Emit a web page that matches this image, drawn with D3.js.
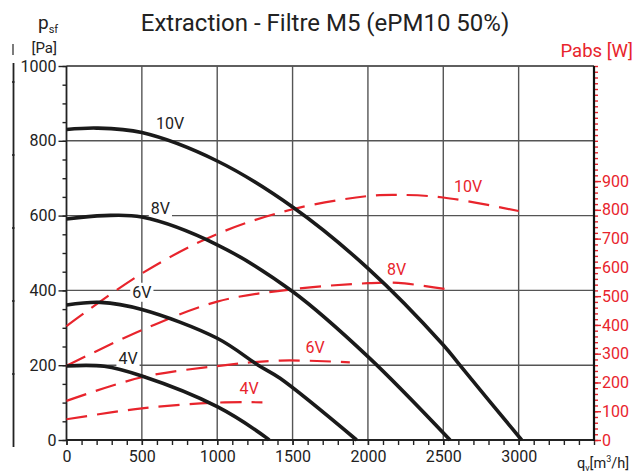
<!DOCTYPE html>
<html><head><meta charset="utf-8">
<script src="https://cdn.jsdelivr.net/npm/d3@7"></script>
<style>
body{margin:0;background:#fff;}
svg{display:block;font-family:Roboto,"DejaVu Sans",sans-serif;}
</style></head>
<body><svg id="c" width="637" height="472"></svg>
<script>
// ---- data ----
const title = "Extraction - Filtre M5 (ePM10 50%)";
const xTicks = [0,500,1000,1500,2000,2500,3000];
const yTicks = [0,200,400,600,800,1000];
const yRTicks = [0,100,200,300,400,500,600,700,800,900];
// pressure curves (flow m3/h, pressure Pa)
const q10 = [0,200,500,1000,1500,2000,2500,2610,3020];
const p10 = [830,834,822,746,623,459,254,200,0];
const q8  = [0,250,500,1000,1500,2000,2545];
const p8  = [591,600,596,522,397,223,0];
const q6  = [0,225,500,1000,1272,1417,1925];
const p6  = [361,368,349,272,200,165,0];
const q4  = [0,250,500,1000,1330,1345];
const p4  = [198,197,171,89,5,0];
// absorbed power curves (flow m3/h, power W)
const qw10 = [0,500,1000,1500,2000,2200,2500,3000];
const w10  = [396,579,716,802,848,852,843,796];
const qw8  = [0,500,1000,1500,2000,2200,2550];
const w8   = [258,382,481,524,545,546,522];
const qw6  = [0,500,1000,1417,1880];
const w6   = [136,218,257,276,270];
const qw4  = [0,500,1000,1300];
const w4   = [72,110,130,131];
const pLabels = ["10V","8V","6V","4V"];
const pLabelAt = [[687,845],[623,620],[500,395],[408,218]];
const wLabelAt = [[2664,882],[2191,594],[1649,322],[1211,179]];

// ---- drawing ----
const RED = "#e8242c";
const svg = d3.select("#c");
const x = d3.scaleLinear([0,3500],[66.5,594]);
const y = d3.scaleLinear([0,1000],[440,66]);
const yR = d3.scaleLinear([0,1300],[440,66]);
const fmt = d3.format("d");

// grid
const g = svg.append("g");
xTicks.slice(1).forEach(v=>{
  g.append("line").attr("x1",x(v)).attr("x2",x(v)).attr("y1",y(0)).attr("y2",y(1000))
   .attr("stroke","#555").attr("stroke-width",1.4);
});
yTicks.slice(1).forEach(v=>{
  g.append("line").attr("x1",x(0)).attr("x2",x(3500)).attr("y1",y(v)).attr("y2",y(v))
   .attr("stroke","#555").attr("stroke-width",1.4);
});

// axes
function styleAxis(sel,color){
  sel.select(".domain").remove();
  sel.selectAll("line").attr("stroke",color).attr("stroke-width",1.4);
  sel.selectAll("text").attr("fill",color).style("font-size","16px").style("font-family","Roboto");
}
const yMinor = d3.range(0,1001,50);
svg.append("g").attr("transform",`translate(${x(0)},0)`)
  .call(d3.axisLeft(y).tickValues(yMinor).tickSize(4).tickFormat(""))
  .call(s=>styleAxis(s,"#222"));
svg.append("g").attr("transform",`translate(${x(0)},0)`)
  .call(d3.axisLeft(y).tickValues(yTicks).tickSize(8).tickPadding(2).tickFormat(fmt))
  .call(s=>styleAxis(s,"#222"));

const xMinor = d3.range(0,3501,100);
svg.append("g").attr("transform",`translate(0,${y(0)})`)
  .call(d3.axisBottom(x).tickValues(xMinor).tickSize(5).tickFormat(""))
  .call(s=>styleAxis(s,"#222"));
svg.append("g").attr("transform",`translate(0,${y(0)})`)
  .call(d3.axisBottom(x).tickValues(xTicks).tickSize(5).tickPadding(6).tickFormat(fmt))
  .call(s=>styleAxis(s,"#222"));

const rMinor = d3.range(0,1301,20);
svg.append("g").attr("transform",`translate(${x(3500)},0)`)
  .call(d3.axisRight(yR).tickValues(rMinor).tickSize(4).tickFormat(""))
  .call(s=>styleAxis(s,RED));
svg.append("g").attr("transform",`translate(${x(3500)},0)`)
  .call(d3.axisRight(yR).tickValues(yRTicks).tickSize(7).tickPadding(1).tickFormat(fmt))
  .call(s=>styleAxis(s,RED));

// frame
svg.append("line").attr("x1",x(0)).attr("x2",x(3500)).attr("y1",y(1000)).attr("y2",y(1000)).attr("stroke","#555").attr("stroke-width",1.4);
svg.append("line").attr("x1",x(0)).attr("x2",x(0)).attr("y1",y(1000)).attr("y2",y(0)+1).attr("stroke","#222").attr("stroke-width",1.8);
svg.append("line").attr("x1",x(0)).attr("x2",x(3500)).attr("y1",y(0)).attr("y2",y(0)).attr("stroke","#222").attr("stroke-width",1.8);
svg.append("line").attr("x1",x(3500)).attr("x2",x(3500)).attr("y1",y(1000)).attr("y2",y(0)+1).attr("stroke","#111").attr("stroke-width",2.2);

// stray left line (as in reference)
svg.append("line").attr("x1",13.5).attr("x2",13.5).attr("y1",63).attr("y2",447).attr("stroke","#222").attr("stroke-width",1.8);
[82,155,228,301,374].forEach(v=>svg.append("line").attr("x1",12).attr("x2",14.5).attr("y1",v).attr("y2",v).attr("stroke","#222").attr("stroke-width",1.6));
svg.append("line").attr("x1",13).attr("x2",13).attr("y1",44).attr("y2",55).attr("stroke","#444").attr("stroke-width",1.4);

// curves
const lineP = d3.line().x(d=>x(d[0])).y(d=>y(d[1])).curve(d3.curveCatmullRom.alpha(0.5));
const lineW = d3.line().x(d=>x(d[0])).y(d=>yR(d[1])).curve(d3.curveCatmullRom.alpha(0.5));
const pc = [[q10,p10],[q8,p8],[q6,p6],[q4,p4]];
const wc = [[qw10,w10],[qw8,w8],[qw6,w6],[qw4,w4]];

wc.forEach(([q,w])=>{
  svg.append("path").attr("d",lineW(q.map((v,i)=>[v,w[i]]))).attr("fill","none")
    .attr("stroke",RED).attr("stroke-width",2.2).attr("stroke-dasharray","21,10");
});

// black labels with white background
pLabels.forEach((t,i)=>{
  const [lx,ly] = pLabelAt[i];
  const tx = svg.append("text").attr("x",x(lx)).attr("y",y(ly)).attr("text-anchor","middle")
    .attr("dominant-baseline","central").style("font-size","16px").attr("fill","#222").text(t);
  const bb = tx.node().getBBox();
  svg.insert("rect",()=>tx.node()).attr("x",bb.x-2).attr("y",bb.y).attr("width",bb.width+4).attr("height",bb.height).attr("fill","#fff");
});

pc.forEach(([q,p])=>{
  svg.append("path").attr("d",lineP(q.map((v,i)=>[v,p[i]]))).attr("fill","none")
    .attr("stroke","#1a1a1a").attr("stroke-width",3.6);
});

pLabels.forEach((t,i)=>{
  const [lx,ly] = wLabelAt[i];
  svg.append("text").attr("x",x(lx)).attr("y",yR(ly)).attr("text-anchor","middle")
    .attr("dominant-baseline","central").style("font-size","16px").attr("fill",RED).text(t);
});

// titles
svg.append("text").attr("x",325).attr("y",31).attr("text-anchor","middle")
  .style("font-size","24px").attr("fill","#222").text(title);
const ps = svg.append("text").attr("x",38).attr("y",29).attr("fill","#222").style("font-size","19px");
ps.append("tspan").text("p");
ps.append("tspan").attr("dy",4).style("font-size","11px").text("sf");
svg.append("text").attr("x",57).attr("y",53).attr("text-anchor","end").attr("fill","#222").style("font-size","15px").text("[Pa]");
svg.append("text").attr("x",633).attr("y",57).attr("text-anchor","end").attr("fill",RED).style("font-size","18.5px").text("Pabs [W]");
const qv = svg.append("text").attr("x",577).attr("y",468).attr("fill","#222").style("font-size","14.5px");
qv.append("tspan").text("q");
qv.append("tspan").attr("dy",3).style("font-size","9px").text("v");
qv.append("tspan").attr("dy",-3).text("[m");
qv.append("tspan").attr("dy",-6).style("font-size","9px").text("3");
qv.append("tspan").attr("dy",6).text("/h]");
</script></body></html>
